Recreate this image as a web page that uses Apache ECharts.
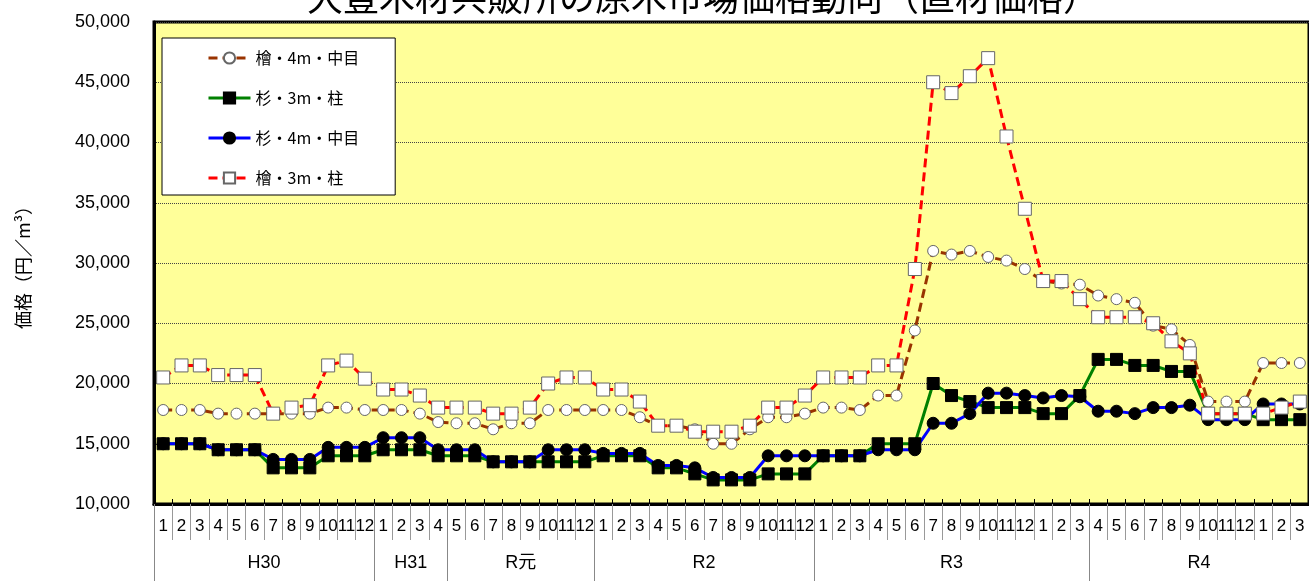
<!DOCTYPE html>
<html><head><meta charset="utf-8">
<script src="https://cdn.jsdelivr.net/npm/echarts@6/dist/echarts.min.js"></script>
<style>html,body{margin:0;padding:0;background:#fff;}#c{width:1309px;height:581px;}</style>
</head><body><div id="c"></div>
<script>
const titleText = '大豊木材共販所の原木市場価格動向（直材価格）';
const months = [
  '1','2','3','4','5','6','7','8','9','10','11','12',
  '1','2','3','4',
  '5','6','7','8','9','10','11','12',
  '1','2','3','4','5','6','7','8','9','10','11','12',
  '1','2','3','4','5','6','7','8','9','10','11','12','1','2','3',
  '4','5','6','7','8','9','10','11','12','1','2','3'
];
const yearGroups = ['H30','H31','R元','R2','R3','R4'];
const groupSizes = [12,4,8,12,15,12];
const yTicks = [10000,15000,20000,25000,30000,35000,40000,45000,50000];

const hinoki4m = [
  17800,17800,17800,17500,17500,17500,17500,17500,17500,18000,18000,17800,
  17800,17800,17500,16800,
  16700,16700,16200,16700,16700,17800,17800,17800,
  17800,17800,17200,16500,16500,16200,15000,15000,16200,17200,17200,17500,
  18000,18000,17800,19000,19000,24400,31000,30700,31000,30500,30200,29500,28500,28300,28200,
  27300,27000,26700,24800,24500,23200,18500,18500,18500,21700,21700,21700
];
const sugi3m = [
  15000,15000,15000,14500,14500,14500,13000,13000,13000,14000,14000,14000,
  14500,14500,14500,14000,
  14000,14000,13500,13500,13500,13500,13500,13500,
  14000,14000,14000,13000,13000,12500,12000,12000,12000,12500,12500,12500,
  14000,14000,14000,15000,15000,15000,20000,19000,18500,18000,18000,18000,17500,17500,19000,
  22000,22000,21500,21500,21000,21000,17500,17500,17500,17000,17000,17000
];
const sugi4m = [
  15000,15000,15000,14500,14500,14500,13700,13700,13700,14700,14700,14700,
  15500,15500,15500,14500,
  14500,14500,13500,13500,13500,14500,14500,14500,
  14200,14200,14200,13200,13200,13000,12200,12200,12200,14000,14000,14000,
  14000,14000,14000,14500,14500,14500,16700,16700,17500,19200,19200,19000,18800,19000,18900,
  17700,17700,17500,18000,18000,18200,17000,17000,17000,18300,18300,18300
];
const hinoki3m = [
  20500,21500,21500,20700,20700,20700,17500,18000,18200,21500,21900,20400,
  19500,19500,19000,18000,
  18000,18000,17500,17500,18000,20000,20500,20500,
  19500,19500,18500,16500,16500,16000,16000,16000,16500,18000,18000,19000,
  20500,20500,20500,21500,21500,29500,45000,44100,45500,47000,40500,34500,28500,28500,27000,
  25500,25500,25500,25000,23500,22500,17500,17500,17500,17500,18000,18500
];

// group boundaries / centres on a value scale aligned with category centres
const groupBounds = [-0.5];
const groupCenters = [];
{
  let s = 0;
  groupSizes.forEach(n => { groupCenters.push(s + (n - 1) / 2); s += n; groupBounds.push(s - 0.5); });
}

const FONT = 'Liberation Sans, Noto Sans CJK JP, sans-serif';
const CJK = 'Noto Sans CJK JP, sans-serif';

const chart = echarts.init(document.getElementById('c'), null, {renderer: 'canvas'});
chart.setOption({
  animation: false,
  backgroundColor: '#ffffff',
  title: {
    text: titleText, left: 698, top: -26, textAlign: 'center',
    textStyle: {fontFamily: CJK, fontSize: 36, fontWeight: 'normal', color: '#000'}
  },
  legend: {
    orient: 'vertical', left: 162, top: 38,
    padding: [10, 36, 7, 45],
    itemWidth: 42, itemHeight: 14, itemGap: 20,
    backgroundColor: '#ffffff', borderColor: '#000', borderWidth: 1,
    lineStyle: {width: 3},
    textStyle: {fontFamily: CJK, fontSize: 16, color: '#000', lineHeight: 20},
    data: ['檜・4m・中目','杉・3m・柱','杉・4m・中目','檜・3m・柱']
  },
  grid: {
    left: 154, top: 22, right: -7, bottom: 77,
    show: true, backgroundColor: '#FFFF99', borderColor: '#000', borderWidth: 3,
    containLabel: false
  },
  xAxis: [
    {
      type: 'category', data: months, position: 'bottom', boundaryGap: true,
      axisLine: {onZero: false, lineStyle: {color: '#000', width: 3}},
      axisTick: {show: true, inside: true, length: 5, interval: 0, lineStyle: {color: '#000', width: 1}},
      axisLabel: {interval: 0, margin: 14, fontFamily: FONT, fontSize: 17, color: '#000'},
      splitLine: {show: false}
    },
    {
      type: 'category', data: months, position: 'bottom', boundaryGap: true,
      axisLine: {show: false, onZero: false},
      axisTick: {show: true, length: 36, interval: 0, lineStyle: {color: '#999', width: 1}},
      axisLabel: {show: false},
      splitLine: {show: false}
    },
    {
      type: 'value', position: 'bottom', min: -0.5, max: 62.5,
      axisLine: {show: false, onZero: false},
      axisTick: {show: true, length: 80, customValues: groupBounds, lineStyle: {color: '#888', width: 1}},
      axisLabel: {
        show: true, margin: 50, customValues: groupCenters,
        fontFamily: FONT, fontSize: 18, color: '#000',
        formatter: v => { const k = groupCenters.findIndex(c => Math.abs(c - v) < 1e-6); return k >= 0 ? yearGroups[k] : ''; }
      },
      splitLine: {show: false}
    }
  ],
  yAxis: {
    type: 'value', min: yTicks[0], max: yTicks[yTicks.length - 1], interval: 5000,
    name: '価格（円／m³）', nameLocation: 'middle', nameGap: 122, nameRotate: 90,
    nameTextStyle: {fontFamily: CJK, fontSize: 18, color: '#000'},
    axisLine: {show: true, onZero: false, lineStyle: {color: '#000', width: 3}},
    axisTick: {show: false},
    axisLabel: {margin: 24, fontFamily: FONT, fontSize: 18, color: '#000',
      formatter: v => v.toLocaleString('en-US')},
    splitLine: {show: true, lineStyle: {color: '#444', width: 1, type: 'dotted'}}
  },
  series: [
    {
      name: '檜・4m・中目', type: 'line', data: hinoki4m,
      symbol: 'circle', symbolSize: 11, showAllSymbol: true,
      lineStyle: {color: '#993300', width: 3, type: [9, 5]},
      itemStyle: {color: '#ffffff', borderColor: '#666', borderWidth: 1}
    },
    {
      name: '杉・3m・柱', type: 'line', data: sugi3m,
      symbol: 'rect', symbolSize: 12, showAllSymbol: true,
      lineStyle: {color: '#008000', width: 3},
      itemStyle: {color: '#000000', borderColor: '#000', borderWidth: 1}
    },
    {
      name: '杉・4m・中目', type: 'line', data: sugi4m,
      symbol: 'circle', symbolSize: 12, showAllSymbol: true,
      lineStyle: {color: '#0000ff', width: 3},
      itemStyle: {color: '#000000', borderColor: '#000', borderWidth: 1}
    },
    {
      name: '檜・3m・柱', type: 'line', data: hinoki3m,
      symbol: 'rect', symbolSize: 13, showAllSymbol: true,
      lineStyle: {color: '#ff0000', width: 3, type: [9, 5]},
      itemStyle: {color: '#ffffff', borderColor: '#666', borderWidth: 1}
    }
  ]
});
</script></body></html>
